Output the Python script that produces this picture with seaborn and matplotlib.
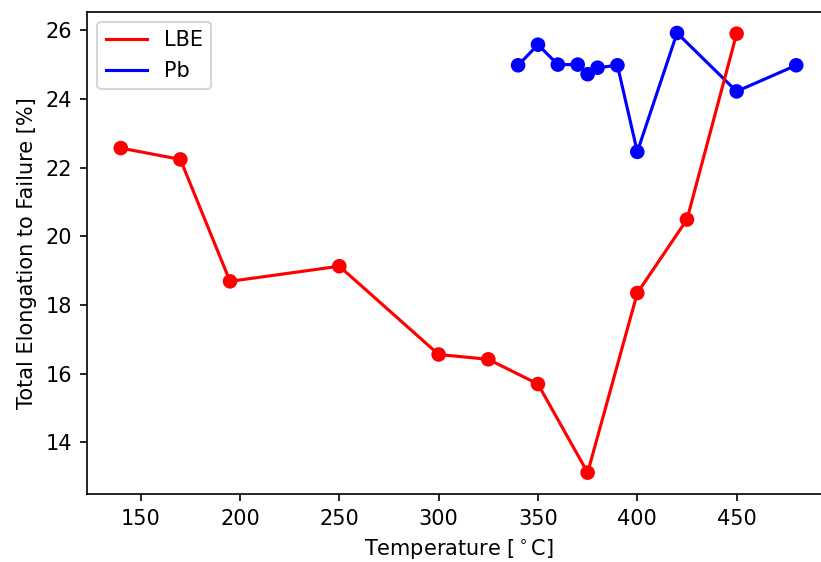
import matplotlib
matplotlib.use("Agg")
import matplotlib.pyplot as plt
import seaborn as sns
import pandas as pd

lbe_temp = [140, 170, 195, 250, 300, 325, 350, 375, 400, 425, 450]
lbe_elong = [22.57, 22.24, 18.69, 19.13, 16.56, 16.42, 15.70, 13.12, 18.35, 20.49, 25.90]

pb_temp = [340, 350, 360, 370, 375, 380, 390, 400, 420, 450, 480]
pb_elong = [24.98, 25.58, 25.00, 25.00, 24.72, 24.91, 24.98, 22.46, 25.92, 24.22, 24.98]

lbe = pd.DataFrame({"T": lbe_temp, "E": lbe_elong})
pb = pd.DataFrame({"T": pb_temp, "E": pb_elong})

dpi = 150
fig = plt.figure(figsize=(821 / dpi, 562 / dpi), dpi=dpi)
ax = fig.add_axes([87 / 821, (562 - 494.3) / 562, 743 / 821, (494.3 - 11.7) / 562])

sns.lineplot(data=pb, x="T", y="E", color="blue", linewidth=1.5, label="Pb", ax=ax, sort=False)
sns.scatterplot(data=pb, x="T", y="E", color="blue", s=49, edgecolor="none", legend=False, ax=ax, zorder=3)
sns.lineplot(data=lbe, x="T", y="E", color="red", linewidth=1.5, label="LBE", ax=ax, sort=False)
sns.scatterplot(data=lbe, x="T", y="E", color="red", s=49, edgecolor="none", legend=False, ax=ax, zorder=3)

handles, labels = ax.get_legend_handles_labels()
order = [labels.index("LBE"), labels.index("Pb")]
ax.legend([handles[i] for i in order], [labels[i] for i in order], loc="upper left")

ax.set_xlim(123, 497)
ax.set_ylim(12.49, 26.54)
ax.set_xticks([150, 200, 250, 300, 350, 400, 450])
ax.set_yticks([14, 16, 18, 20, 22, 24, 26])
ax.set_xlabel(r"Temperature [$^\circ$C]")
ax.set_ylabel("Total Elongation to Failure [%]")

fig.savefig("out.png", dpi=dpi)
